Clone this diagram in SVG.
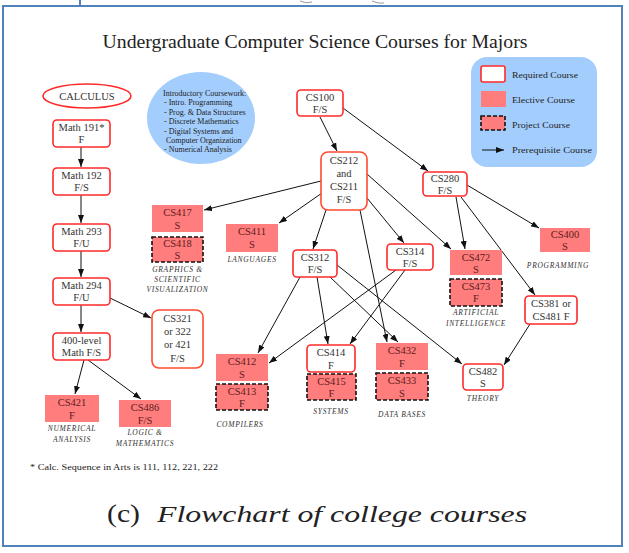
<svg xmlns="http://www.w3.org/2000/svg" width="629" height="553" viewBox="0 0 629 553">
  <style>
    .frame { fill: none; stroke: #4f81bd; stroke-width: 2; }
    .req { fill: #ffffff; stroke: #ff2a2a; stroke-width: 1.6; }
    .req2 { fill: #ffffff; stroke: #ff4a30; stroke-width: 1.6; }
    .elec { fill: #ff7d7d; stroke: none; }
    .proj { fill: #ff7d7d; stroke: #111111; stroke-width: 1.6; stroke-dasharray: 4 2; }
    .blue { fill: #a3cdfd; stroke: none; }
    .serif { font-family: "Liberation Serif", "Tinos", "DejaVu Serif", "Noto Serif", serif; }
    .t { font-family: "Liberation Serif", "Tinos", "DejaVu Serif", "Noto Serif", serif; font-size: 10.5px; fill: #333333; text-anchor: middle; }
    .tp { font-family: "Liberation Serif", "Tinos", "DejaVu Serif", "Noto Serif", serif; font-size: 10.5px; fill: #5e1c1c; text-anchor: middle; }
    .cap { font-family: "Liberation Serif", "Tinos", "DejaVu Serif", "Noto Serif", serif; font-size: 7.5px; font-style: italic; fill: #333333; text-anchor: middle; letter-spacing: 0.7px; }
    .small { font-family: "Liberation Serif", "Tinos", "DejaVu Serif", "Noto Serif", serif; font-size: 8px; fill: #222222; }
    .edge { fill: none; stroke: #111111; stroke-width: 1; marker-end: url(#arrow); }
  </style>
  <defs>
    <marker id="arrow" markerWidth="8" markerHeight="6" refX="8" refY="3" orient="auto" markerUnits="userSpaceOnUse">
      <path d="M0,0 L8,3 L0,6 z" fill="#111111"/>
    </marker>
  </defs>

  <rect width="629" height="553" fill="#ffffff"/>

  <!-- page edges around the figure -->
  <line x1="80" y1="0" x2="80" y2="6" class="frame"/>
  <path d="M300,1 q6,3 12,1 M372,1 q6,3 12,2" fill="none" stroke="#9a9a9a" stroke-width="1"/>
  <rect x="3" y="6" width="619" height="540" class="frame"/>

  <!-- title -->
  <text x="315" y="48" class="serif" font-size="18" fill="#222222" text-anchor="middle" textLength="425" lengthAdjust="spacingAndGlyphs">Undergraduate Computer Science Courses for Majors</text>

  <!-- legend -->
  <g id="legend">
    <rect x="471" y="57" width="126" height="110" rx="16" class="blue"/>
    <rect x="481" y="66" width="24" height="16" rx="2" class="req"/>
    <text x="512" y="78" class="small" textLength="66" lengthAdjust="spacingAndGlyphs">Required Course</text>
    <rect x="481" y="91" width="25" height="16" class="elec"/>
    <text x="512" y="103" class="small" textLength="63" lengthAdjust="spacingAndGlyphs">Elective Course</text>
    <rect x="481" y="116" width="24" height="14" class="proj"/>
    <text x="512" y="128" class="small" textLength="58" lengthAdjust="spacingAndGlyphs">Project Course</text>
    <line x1="482" y1="150" x2="504" y2="150" class="edge"/>
    <text x="512" y="153" class="small" textLength="80" lengthAdjust="spacingAndGlyphs">Prerequisite Course</text>
  </g>

  <!-- introductory coursework -->
  <g id="intro">
    <ellipse cx="201" cy="118" rx="54" ry="46" class="blue"/>
    <text class="small" font-size="7.8">
      <tspan x="163" y="96">Introductory Coursework:</tspan>
      <tspan x="164" y="105">- Intro. Programming</tspan>
      <tspan x="164" y="115">- Prog. &amp; Data Structures</tspan>
      <tspan x="164" y="124">- Discrete Mathematics</tspan>
      <tspan x="164" y="134">- Digital Systems and</tspan>
      <tspan x="166" y="143">Computer Organization</tspan>
      <tspan x="164" y="152">- Numerical Analysis</tspan>
    </text>
  </g>

  <!-- connectors -->
  <g id="connectors">
    <line x1="81" y1="147" x2="81" y2="167" class="edge"/>
    <line x1="81" y1="195" x2="81" y2="223" class="edge"/>
    <line x1="81" y1="251" x2="81" y2="277" class="edge"/>
    <line x1="81" y1="305" x2="81" y2="332" class="edge"/>
    <line x1="110" y1="298" x2="151" y2="318" class="edge"/>
    <line x1="84" y1="360" x2="75" y2="394" class="edge"/>
    <line x1="88" y1="360" x2="141" y2="399" class="edge"/>
    <line x1="320" y1="117" x2="337" y2="151" class="edge"/>
    <line x1="343" y1="108" x2="428" y2="171" class="edge"/>
    <line x1="321" y1="181" x2="204" y2="210" class="edge"/>
    <line x1="322" y1="193" x2="279" y2="223" class="edge"/>
    <line x1="326" y1="210" x2="313" y2="249" class="edge"/>
    <line x1="367" y1="198" x2="404" y2="243" class="edge"/>
    <line x1="367" y1="174" x2="451" y2="249" class="edge"/>
    <line x1="360" y1="210" x2="387" y2="342" class="edge"/>
    <line x1="456" y1="197" x2="465" y2="249" class="edge"/>
    <line x1="467" y1="185" x2="539" y2="228" class="edge"/>
    <line x1="461" y1="197" x2="535" y2="295" class="edge"/>
    <line x1="300" y1="277" x2="258" y2="353" class="edge"/>
    <line x1="317" y1="277" x2="328" y2="344" class="edge"/>
    <line x1="330" y1="277" x2="398" y2="342" class="edge"/>
    <line x1="337" y1="265" x2="462" y2="364" class="edge"/>
    <line x1="396" y1="270" x2="269" y2="363" class="edge"/>
    <line x1="405" y1="270" x2="350" y2="344" class="edge"/>
    <line x1="530" y1="324" x2="504" y2="365" class="edge"/>
  </g>

  <!-- mathematics column -->
  <g id="calculus">
    <ellipse cx="87" cy="96" rx="44" ry="12" class="req"/>
    <text x="87" y="99.5" class="t" font-size="8.5">CALCULUS</text>
  </g>
  <g id="math191">
    <rect x="53" y="120" width="57" height="27" rx="4" class="req"/>
    <text class="t"><tspan x="81.5" y="131">Math 191*</tspan><tspan x="81.5" y="143">F</tspan></text>
  </g>
  <g id="math192">
    <rect x="53" y="168" width="57" height="27" rx="4" class="req"/>
    <text class="t"><tspan x="81.5" y="179">Math 192</tspan><tspan x="81.5" y="191">F/S</tspan></text>
  </g>
  <g id="math293">
    <rect x="53" y="224" width="57" height="27" rx="4" class="req"/>
    <text class="t"><tspan x="81.5" y="235">Math 293</tspan><tspan x="81.5" y="247">F/U</tspan></text>
  </g>
  <g id="math294">
    <rect x="53" y="278" width="57" height="27" rx="4" class="req"/>
    <text class="t"><tspan x="81.5" y="289">Math 294</tspan><tspan x="81.5" y="301">F/U</tspan></text>
  </g>
  <g id="math400">
    <rect x="53" y="333" width="57" height="27" rx="4" class="req"/>
    <text class="t"><tspan x="81.5" y="344">400-level</tspan><tspan x="81.5" y="356">Math F/S</tspan></text>
  </g>
  <g id="cs321">
    <rect x="152" y="310" width="51" height="58" rx="7" class="req2"/>
    <text class="t"><tspan x="177.5" y="322">CS321</tspan><tspan x="177.5" y="335">or 322</tspan><tspan x="177.5" y="348">or 421</tspan><tspan x="177.5" y="362">F/S</tspan></text>
  </g>
  <g id="cs421">
    <rect x="45" y="395" width="54" height="27" class="elec"/>
    <text class="tp"><tspan x="72" y="406">CS421</tspan><tspan x="72" y="419">F</tspan></text>
    <text class="cap"><tspan x="72" y="431">NUMERICAL</tspan><tspan x="72" y="442">ANALYSIS</tspan></text>
  </g>
  <g id="cs486">
    <rect x="119" y="400" width="52" height="27" class="elec"/>
    <text class="tp"><tspan x="145" y="411">CS486</tspan><tspan x="145" y="424">F/S</tspan></text>
    <text class="cap"><tspan x="145" y="435">LOGIC &amp;</tspan><tspan x="145" y="446">MATHEMATICS</tspan></text>
  </g>

  <!-- computer science courses -->
  <g id="cs417">
    <rect x="152" y="205" width="51" height="27" class="elec"/>
    <text class="tp"><tspan x="177.5" y="216">CS417</tspan><tspan x="177.5" y="229">S</tspan></text>
  </g>
  <g id="cs418">
    <rect x="152" y="237" width="51" height="25" class="proj"/>
    <text class="tp"><tspan x="177.5" y="247">CS418</tspan><tspan x="177.5" y="259">S</tspan></text>
    <text class="cap"><tspan x="177.5" y="272">GRAPHICS &amp;</tspan><tspan x="177.5" y="282">SCIENTIFIC</tspan><tspan x="177.5" y="292">VISUALIZATION</tspan></text>
  </g>
  <g id="cs411">
    <rect x="226" y="224" width="52" height="28" class="elec"/>
    <text class="tp"><tspan x="252" y="235">CS411</tspan><tspan x="252" y="248">S</tspan></text>
    <text x="252" y="262" class="cap">LANGUAGES</text>
  </g>
  <g id="cs100">
    <rect x="297" y="90" width="46" height="26" rx="4" class="req"/>
    <text class="t"><tspan x="320" y="101">CS100</tspan><tspan x="320" y="113">F/S</tspan></text>
  </g>
  <g id="cs212">
    <rect x="321" y="152" width="46" height="58" rx="7" class="req2"/>
    <text class="t"><tspan x="344" y="164">CS212</tspan><tspan x="344" y="177">and</tspan><tspan x="344" y="190">CS211</tspan><tspan x="344" y="203">F/S</tspan></text>
  </g>
  <g id="cs280">
    <rect x="423" y="172" width="44" height="24" rx="4" class="req"/>
    <text class="t"><tspan x="445" y="182">CS280</tspan><tspan x="445" y="194">F/S</tspan></text>
  </g>
  <g id="cs312">
    <rect x="293" y="250" width="44" height="27" rx="4" class="req"/>
    <text class="t"><tspan x="315" y="261">CS312</tspan><tspan x="315" y="273">F/S</tspan></text>
  </g>
  <g id="cs314">
    <rect x="387" y="244" width="46" height="26" rx="4" class="req"/>
    <text class="t"><tspan x="410" y="255">CS314</tspan><tspan x="410" y="267">F/S</tspan></text>
  </g>
  <g id="cs472">
    <rect x="450" y="250" width="52" height="25" class="elec"/>
    <text class="tp"><tspan x="476" y="261">CS472</tspan><tspan x="476" y="273">S</tspan></text>
  </g>
  <g id="cs473">
    <rect x="450" y="279" width="52" height="27" class="proj"/>
    <text class="tp"><tspan x="476" y="290">CS473</tspan><tspan x="476" y="302">F</tspan></text>
    <text class="cap"><tspan x="476" y="315">ARTIFICIAL</tspan><tspan x="476" y="326">INTELLIGENCE</tspan></text>
  </g>
  <g id="cs400">
    <rect x="540" y="228" width="50" height="24" class="elec"/>
    <text class="tp"><tspan x="565" y="238">CS400</tspan><tspan x="565" y="250">S</tspan></text>
    <text x="558" y="268" class="cap">PROGRAMMING</text>
  </g>
  <g id="cs381">
    <rect x="525" y="296" width="52" height="28" rx="4" class="req"/>
    <text class="t"><tspan x="551" y="307">CS381 or</tspan><tspan x="551" y="320">CS481 F</tspan></text>
  </g>
  <g id="cs482">
    <rect x="463" y="364" width="40" height="26" rx="4" class="req"/>
    <text class="t"><tspan x="483" y="375">CS482</tspan><tspan x="483" y="387">S</tspan></text>
    <text x="483" y="401" class="cap">THEORY</text>
  </g>
  <g id="cs412">
    <rect x="216" y="354" width="52" height="27" class="elec"/>
    <text class="tp"><tspan x="242" y="365">CS412</tspan><tspan x="242" y="378">S</tspan></text>
  </g>
  <g id="cs413">
    <rect x="216" y="384" width="52" height="26" class="proj"/>
    <text class="tp"><tspan x="242" y="395">CS413</tspan><tspan x="242" y="407">F</tspan></text>
    <text x="240" y="427" class="cap">COMPILERS</text>
  </g>
  <g id="cs414">
    <rect x="307" y="345" width="48" height="27" rx="4" class="req"/>
    <text class="t"><tspan x="331" y="356">CS414</tspan><tspan x="331" y="369">F</tspan></text>
  </g>
  <g id="cs415">
    <rect x="307" y="374" width="49" height="26" class="proj"/>
    <text class="tp"><tspan x="331.5" y="385">CS415</tspan><tspan x="331.5" y="397">F</tspan></text>
    <text x="331" y="414" class="cap">SYSTEMS</text>
  </g>
  <g id="cs432">
    <rect x="376" y="343" width="52" height="27" class="elec"/>
    <text class="tp"><tspan x="402" y="354">CS432</tspan><tspan x="402" y="367">F</tspan></text>
  </g>
  <g id="cs433">
    <rect x="376" y="373" width="52" height="27" class="proj"/>
    <text class="tp"><tspan x="402" y="384">CS433</tspan><tspan x="402" y="397">S</tspan></text>
    <text x="402" y="417" class="cap">DATA BASES</text>
  </g>

  <!-- footnote -->
  <text x="30" y="470" class="small" font-size="7.5" textLength="188" lengthAdjust="spacingAndGlyphs">* Calc. Sequence in Arts is 111, 112, 221, 222</text>

  <!-- caption -->
  <text x="107" y="522" class="serif" font-size="25" fill="#222222" textLength="33" lengthAdjust="spacingAndGlyphs">(c)</text>
  <text x="157" y="522" class="serif" font-size="24" font-style="italic" fill="#222222" textLength="370" lengthAdjust="spacingAndGlyphs">Flowchart of college courses</text>
</svg>
